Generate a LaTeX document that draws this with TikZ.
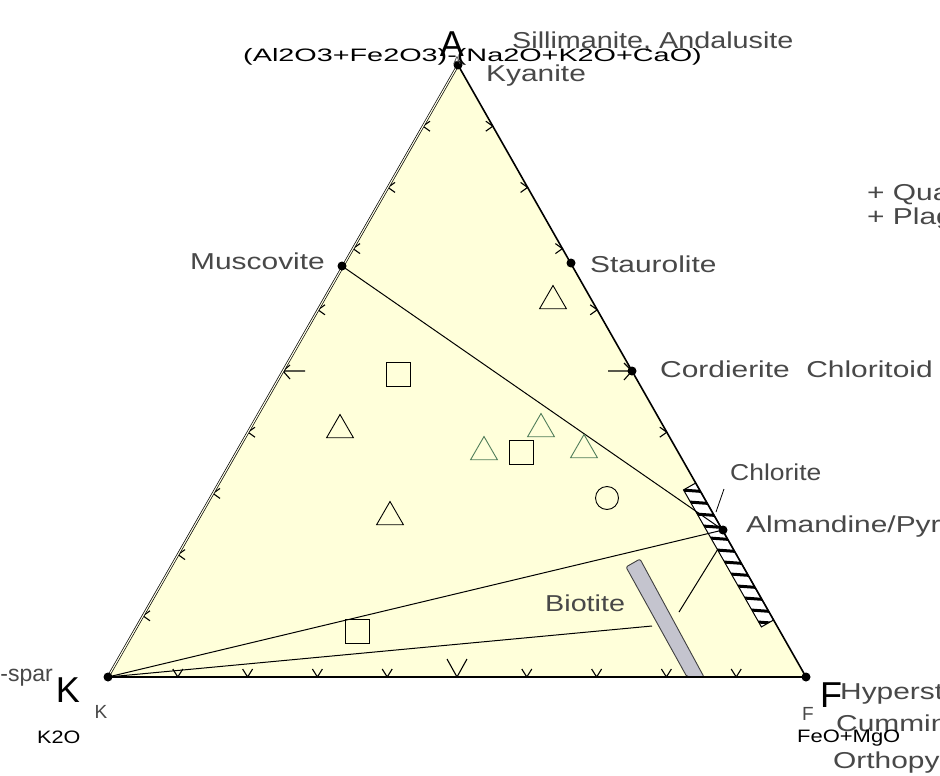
\documentclass[tikz,border=0pt]{standalone}
\usepackage{fontspec}
\usepackage{graphicx}
\setmainfont{Liberation Sans}
\usetikzlibrary{shapes.geometric}
\definecolor{bgy}{RGB}{255,255,218}
\definecolor{lbl}{RGB}{72,72,72}
\definecolor{grn}{RGB}{80,125,90}
\definecolor{barg}{RGB}{196,196,206}
\newcommand{\wx}[1]{\scalebox{1.3}[1]{#1}}
\newcommand{\wc}[1]{\scalebox{1.6}[1]{#1}}
\begin{document}
\begin{tikzpicture}[x=1pt,y=-1pt,
  lab/.style={font=\fontsize{23}{25}\selectfont, text=lbl, inner sep=0},
  chem/.style={font=\fontsize{18}{20}\selectfont, text=black, inner sep=0},
  big/.style={font=\fontsize{36}{38}\selectfont, inner sep=0},
  minor/.style={font=\fontsize{19}{20}\selectfont, text=lbl, inner sep=0},
  dotp/.style={circle, fill=black, inner sep=0, minimum size=9pt},
  tk/.style={line width=1.1pt, black},
  mtri/.style={draw, regular polygon, regular polygon sides=3, minimum size=31pt, inner sep=0, line width=0.9pt},
  msq/.style={draw, rectangle, minimum size=24pt, inner sep=0, line width=1pt},
  mci/.style={draw, circle, minimum size=23pt, inner sep=0, line width=0.9pt},
  tie/.style={line width=1pt, black}]
\useasboundingbox (0,0) rectangle (940,776);
\fill[white] (0,0) rectangle (940,776);
% vertices and phase points
\coordinate (A) at (458,65);
\coordinate (K) at (108,677);
\coordinate (F) at (806,677);
\coordinate (mu) at (342,266);
\coordinate (st) at (571,263);
\coordinate (co) at (632,371);
\coordinate (al) at (723,530);
\coordinate (bt) at (652,626);
\coordinate (b1) at (679,612);
\coordinate (b2) at (718,549);
\coordinate (c1) at (724,489);
\coordinate (c2) at (716,512);
% field
\fill[bgy] (A) -- (K) -- (F) -- cycle;
% ticks
\foreach \k in {1,2,3,4,6,7,8,9} {
  \draw[tk] ({458-35*\k+7},{65+61.2*\k-5}) -- ({458-35*\k},{65+61.2*\k}) -- ({458-35*\k+7},{65+61.2*\k+5});
  \draw[tk] ({458+34.8*\k-7},{65+61.2*\k-5}) -- ({458+34.8*\k},{65+61.2*\k}) -- ({458+34.8*\k-7},{65+61.2*\k+5});
  \draw[tk] ({108+69.8*\k-5},669) -- ({108+69.8*\k},677) -- ({108+69.8*\k+5},669);
}
\draw[tk] (290,365) -- (283,371) -- (290,379) (283,371) -- (305,371);
\draw[tk] (624,363) -- (632,371) -- (624,380) (608,371) -- (632,371);
\draw[tk] (447,659) -- (457,677) -- (467,659);
% hatched bar along the FeO+MgO side
\begin{scope}
  \clip (695.7,483) -- (773.6,620) -- (761.4,626.9) -- (683.5,489.9) -- cycle;
  \fill[white] (680,475) rectangle (780,630);
  \foreach \i in {0,...,13} {
    \draw[line width=3pt] (675,{478+11.5*\i}) -- (785,{478+11.5*\i+8});
  }
\end{scope}
\draw[line width=1pt] (695.7,483) -- (773.6,620) -- (761.4,626.9) -- (683.5,489.9) -- cycle;
% grey bar
\draw[fill=barg, draw=black!75, line width=0.9pt, rounded corners=2pt] (626,567) -- (640,559) -- (704,677) -- (687,677) -- cycle;
% tie lines
\draw[tie] (mu) -- (al);
\draw[tie] (K) -- (al);
\draw[tie] (K) -- (bt);
\draw[tie] (b1) -- (b2);
\draw[line width=0.8pt] (c1) -- (c2);
% edges
\draw[line width=0.7pt, double=bgy!60!white, double distance=1.1pt] (K) -- (A);
\draw[line width=1.6pt] (A) -- (F);
\draw[line width=2.6pt] (K) -- (F);
% dots
\foreach \p in {A,K,F,mu,st,co,al} \node[dotp] (d\p) at (\p) {};
% data markers
\node[mtri] (t1) at (340,430) {};
\node[mtri, draw=grn] (t2) at (484,452) {};
\node[mtri, draw=grn] (t3) at (541,429) {};
\node[mtri, draw=grn] (t4) at (584,450) {};
\node[mtri] (t5) at (390,517) {};
\node[mtri] (t6) at (553,301) {};
\node[msq] (s1) at (398,374) {};
\node[msq] (s2) at (521,452) {};
\node[msq] (s3) at (357,631) {};
\node[mci] (o1) at (607,498) {};
% labels
\node[big, anchor=center] (lA) at (452,44) {A};
\node[minor, anchor=center, font=\fontsize{11}{12}\selectfont] (lAs) at (457,61) {A};
\node[lab, anchor=west] (sil) at (512,42) {\scalebox{1.25}[1]{Sillimanite, Andalusite}};
\node[lab, anchor=west] (kya) at (486,76) {\wx{Kyanite}};
\node[chem, anchor=west] (aox) at (243,57) {\wc{(Al2O3+Fe2O3)-(Na2O+K2O+CaO)}};
\node[lab, anchor=west] (qz) at (867,195) {\wx{+ Quartz}};
\node[lab, anchor=west] (pl) at (867,219) {\wx{+ Plagioclase}};
\node[lab, anchor=east] (lmu) at (325,261) {\wx{Muscovite}};
\node[lab, anchor=west] (lst) at (590,264) {\wx{Staurolite}};
\node[lab, anchor=west] (lco) at (660,369) {\wx{Cordierite\ \ Chloritoid}};
\node[lab, anchor=west] (lch) at (730,472) {\scalebox{1.15}[1]{Chlorite}};
\node[lab, anchor=west] (lal) at (746,527) {\wx{Almandine/Pyrope}};
\node[lab, anchor=west] (lbi) at (545,603) {\scalebox{1.25}[1]{Biotite}};
\node[lab, anchor=east] (lks) at (53,676) {K-spar};
\node[big, anchor=center] (lK) at (68,690) {K};
\node[minor, anchor=center] (lKs) at (101,712) {K};
\node[chem, anchor=west, font=\fontsize{18}{20}\selectfont] (k2o) at (37,737) {\scalebox{1.2}[1]{K2O}};
\node[big, anchor=center] (lF) at (831,695) {F};
\node[minor, anchor=center] (lFs) at (808,714) {F};
\node[lab, anchor=west] (hy) at (840,694) {\wx{Hypersthene}};
\node[lab, anchor=west] (cu) at (836,726) {\wx{Cummingtonite}};
\node[lab, anchor=west] (ot) at (833,763) {\wx{Orthopyroxene}};
\node[chem, anchor=west, font=\fontsize{18}{20}\selectfont] (fm) at (797,738) {\scalebox{1.22}[1]{FeO+MgO}};
\end{tikzpicture}
\end{document}
